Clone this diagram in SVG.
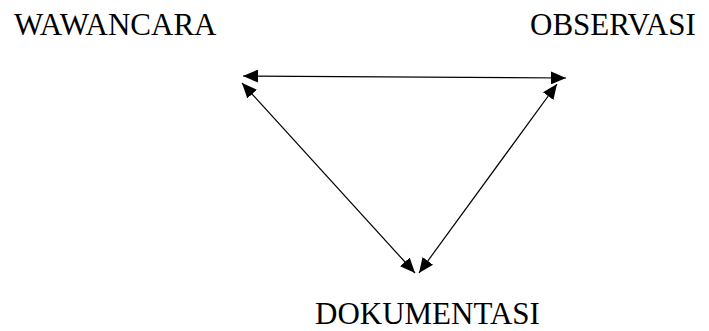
<svg xmlns="http://www.w3.org/2000/svg" width="709" height="331" viewBox="0 0 709 331">
  <style>
    text { font-family: "Liberation Serif", "Times New Roman", Times, serif; font-size: 31px; fill: #000; }
    .link { stroke: #000; stroke-width: 1.2; fill: none; marker-start: url(#head); marker-end: url(#head); }
  </style>
  <defs>
    <!-- solid triangular head, reused at both ends of every link -->
    <marker id="head" viewBox="0 0 15 13" refX="15" refY="6.5" markerWidth="15" markerHeight="13" markerUnits="userSpaceOnUse" orient="auto-start-reverse">
      <path d="M0,0 L15,6.5 L0,13 Z" fill="#000"/>
    </marker>
  </defs>
  <rect width="709" height="331" fill="#fff"/>

  <g id="wawancara">
    <text x="14" y="35">WAWANCARA</text>
  </g>
  <g id="observasi">
    <text x="530" y="35">OBSERVASI</text>
  </g>
  <g id="dokumentasi">
    <text x="315" y="324">DOKUMENTASI</text>
  </g>

  <g id="connectors">
    <line class="link" x1="243" y1="76" x2="566" y2="78"/>
    <line class="link" x1="242" y1="83" x2="415" y2="273"/>
    <line class="link" x1="557" y1="84" x2="419" y2="273"/>
  </g>
</svg>
